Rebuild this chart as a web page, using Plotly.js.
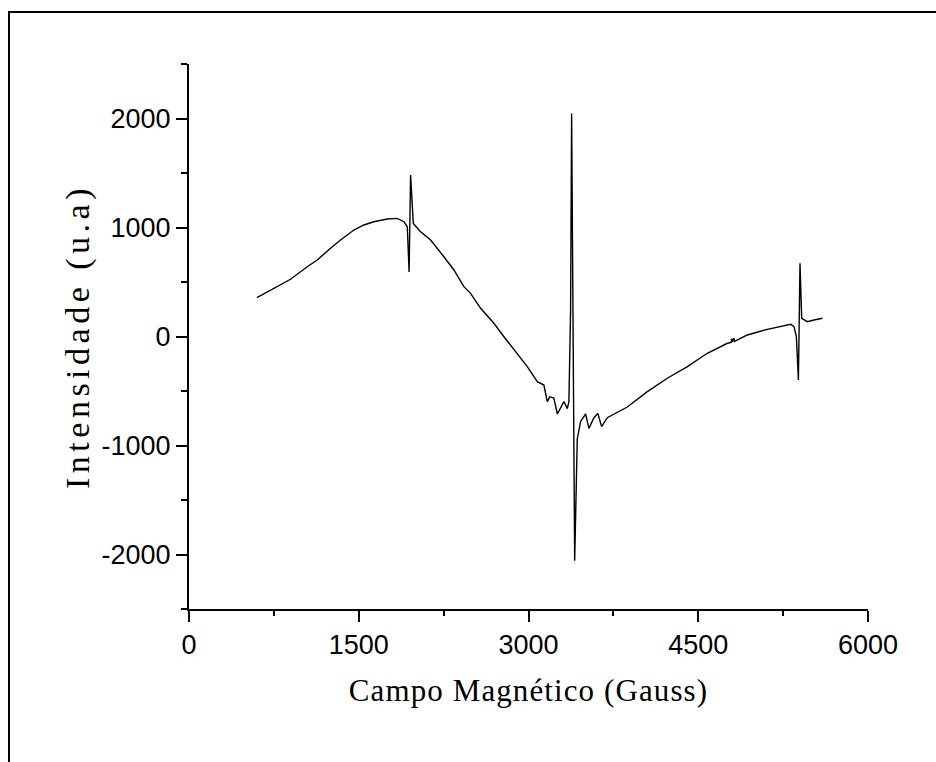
<!DOCTYPE html>
<html>
<head>
<meta charset="utf-8">
<script src="https://cdn.plot.ly/plotly-3.0.1.min.js"></script>
<style>
html,body{margin:0;padding:0;background:#fff;}
#chart{width:936px;height:762px;position:absolute;left:0;top:0;}
#frame{position:absolute;left:8px;top:11px;width:1200px;height:1200px;border-top:2px solid #000;border-left:2px solid #000;pointer-events:none;}
body{width:936px;height:762px;overflow:hidden;position:relative;}
.xtitle{letter-spacing:1.1px;}
.ytitle{letter-spacing:4.5px;}
</style>
</head>
<body>
<div id="chart"></div>
<div id="frame"></div>
<script>
// Magnetic field (Gauss)
const campo = [600, 750, 897, 1045, 1133, 1251, 1339, 1457, 1545, 1633, 1752, 1840, 1899, 1929, 1945, 1958, 1982,
  2046, 2135, 2252, 2341, 2429, 2488, 2577, 2694, 2783, 2901, 2989, 3078, 3136, 3166, 3189, 3224, 3255,
  3313, 3343, 3357, 3372, 3381, 3408, 3431, 3461, 3505, 3534, 3578, 3613, 3646, 3696, 3873, 4050, 4227,
  4404, 4580, 4757, 4790, 4795, 4800, 4815, 4820, 4934, 5111, 5317, 5346, 5367, 5385, 5399, 5414, 5464,
  5523, 5597];
// Intensity (u.a)
const intensidade = [356, 442, 525, 640, 702, 809, 885, 977, 1023, 1053, 1078, 1084, 1053, 1007, 592, 1482, 1038,
  961, 885, 732, 610, 457, 396, 259, 121, -2, -154, -277, -415, -445, -598, -554, -564, -711,
  -597, -662, -597, 243, 2045, -2057, -940, -777, -711, -843, -745, -705, -827, -745, -647, -506, -383,
  -277, -154, -62, -55, -20, -50, -15, -45, 14, 66, 112, 90, -2, -399, 672, 167, 136,
  151, 167];
const xTickVals = [0, 1500, 3000, 4500, 6000];
const yTickVals = [-2000, -1000, 0, 1000, 2000];

const trace = {
  x: campo, y: intensidade, type: 'scatter', mode: 'lines',
  line: {color: '#000', width: 1.4},
  hoverinfo: 'skip'
};

const axisCommon = {
  showline: true, linecolor: '#000', linewidth: 2,
  ticks: 'outside', ticklen: 11, tickwidth: 2, tickcolor: '#000',
  showgrid: false, zeroline: false,
  tickfont: {family: 'Liberation Sans, Arial, sans-serif', size: 27, color: '#000'}
};

const layout = {
  width: 936, height: 762,
  margin: {l: 189, r: 68, t: 64, b: 153},
  paper_bgcolor: '#fff', plot_bgcolor: '#fff',
  showlegend: false,
  xaxis: Object.assign({}, axisCommon, {
    range: [0, 6000], tickvals: xTickVals, ticktext: xTickVals.map(String),
    minor: {dtick: 750, tick0: 0, ticks: 'outside', ticklen: 5, tickwidth: 2, tickcolor: '#000'},
    title: {text: 'Campo Magnético (Gauss)', standoff: 20,
      font: {family: 'Liberation Serif, Times New Roman, serif', size: 31, color: '#000'}}
  }),
  yaxis: Object.assign({}, axisCommon, {
    range: [-2500, 2500], tickvals: yTickVals, ticktext: yTickVals.map(String),
    minor: {dtick: 500, tick0: 0, ticks: 'outside', ticklen: 6, tickwidth: 2, tickcolor: '#000'},
    title: {text: 'Intensidade (u.a)', standoff: 2,
      font: {family: 'Liberation Serif, Times New Roman, serif', size: 34, color: '#000'}}
  })
};

Plotly.newPlot('chart', [trace], layout, {staticPlot: true, displayModeBar: false});
</script>
</body>
</html>
